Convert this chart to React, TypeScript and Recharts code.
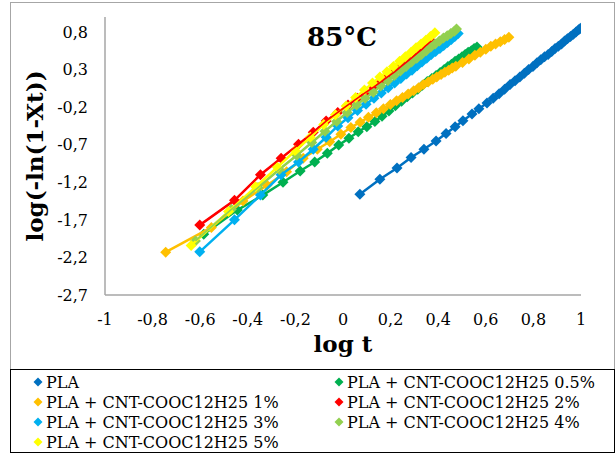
import { ScatterChart, Scatter, XAxis, YAxis } from "recharts";

// log t ticks and log(-ln(1-Xt)) ticks
const xTicks = [-1, -0.8, -0.6, -0.4, -0.2, 0, 0.2, 0.4, 0.6, 0.8, 1];
const yTicks = [-2.7, -2.2, -1.7, -1.2, -0.7, -0.2, 0.3, 0.8];

// PLA
const plaX = [0.071, 0.155, 0.227, 0.286, 0.34, 0.391, 0.433, 0.471, 0.504, 0.542, 0.571, 0.605, 0.631, 0.656, 0.679, 0.702, 0.723, 0.743, 0.762, 0.78, 0.798, 0.815, 0.831, 0.847, 0.862, 0.877, 0.891, 0.905, 0.918, 0.931, 0.943, 0.956, 0.968, 0.979, 0.99, 0.998];
const plaY = [-1.36, -1.16, -1.01, -0.87, -0.76, -0.65, -0.55, -0.46, -0.38, -0.29, -0.22, -0.145, -0.08, -0.02, 0.04, 0.1, 0.15, 0.2, 0.25, 0.3, 0.34, 0.39, 0.43, 0.47, 0.5, 0.54, 0.58, 0.61, 0.64, 0.68, 0.71, 0.74, 0.77, 0.8, 0.83, 0.85];

// PLA + CNT-COOC12H25 0.5%
const cnt05X = [-0.585, -0.444, -0.337, -0.252, -0.18, -0.119, -0.066, -0.018, 0.025, 0.064, 0.1, 0.134, 0.164, 0.193, 0.22, 0.246, 0.27, 0.292, 0.314, 0.334, 0.354, 0.373, 0.391, 0.408, 0.425, 0.441, 0.456, 0.471, 0.486, 0.5, 0.513, 0.526, 0.539, 0.551, 0.563];
const cnt05Y = [-1.89, -1.57, -1.37, -1.2, -1.05, -0.93, -0.815, -0.705, -0.615, -0.527, -0.46, -0.39, -0.32, -0.25, -0.18, -0.12, -0.06, -0.01, 0.04, 0.09, 0.14, 0.18, 0.22, 0.26, 0.3, 0.34, 0.37, 0.41, 0.44, 0.47, 0.5, 0.53, 0.55, 0.58, 0.6];

// PLA + CNT-COOC12H25 1%
const cnt1X = [-0.745, -0.553, -0.42, -0.319, -0.237, -0.167, -0.108, -0.056, -0.009, 0.033, 0.072, 0.107, 0.14, 0.17, 0.199, 0.225, 0.25, 0.274, 0.297, 0.318, 0.338, 0.358, 0.377, 0.394, 0.412, 0.428, 0.444, 0.459, 0.474, 0.502, 0.529, 0.554, 0.577, 0.6, 0.621, 0.641, 0.661, 0.679, 0.697];
const cnt1Y = [-2.13, -1.8, -1.45, -1.24, -1.06, -0.88, -0.76, -0.66, -0.56, -0.47, -0.4, -0.335, -0.275, -0.22, -0.165, -0.115, -0.07, -0.025, 0.02, 0.06, 0.1, 0.135, 0.17, 0.2, 0.235, 0.265, 0.29, 0.32, 0.345, 0.395, 0.44, 0.49, 0.53, 0.57, 0.61, 0.64, 0.67, 0.7, 0.73];

// PLA + CNT-COOC12H25 2%
const cnt2X = [-0.602, -0.456, -0.347, -0.26, -0.187, -0.125, -0.071, -0.022, 0.021, 0.061, 0.097, 0.13, 0.161, 0.19, 0.217, 0.243, 0.267, 0.29, 0.312, 0.332, 0.352, 0.371];
const cnt2Y = [-1.77, -1.44, -1.1, -0.88, -0.695, -0.535, -0.385, -0.27, -0.17, -0.08, 0.0, 0.07, 0.14, 0.21, 0.27, 0.34, 0.4, 0.46, 0.52, 0.57, 0.63, 0.68];

// PLA + CNT-COOC12H25 3%
const cnt3X = [-0.602, -0.456, -0.347, -0.26, -0.187, -0.125, -0.071, -0.022, 0.021, 0.061, 0.097, 0.13, 0.161, 0.19, 0.217, 0.243, 0.267, 0.29, 0.312, 0.332, 0.352, 0.371, 0.389, 0.407, 0.423, 0.439, 0.455, 0.47, 0.484];
const cnt3Y = [-2.125, -1.7, -1.37, -1.1, -0.93, -0.76, -0.6, -0.45, -0.34, -0.245, -0.16, -0.08, -0.01, 0.06, 0.12, 0.18, 0.24, 0.29, 0.35, 0.4, 0.45, 0.5, 0.54, 0.58, 0.62, 0.66, 0.7, 0.74, 0.78];

// PLA + CNT-COOC12H25 4%
const cnt4X = [-0.62, -0.469, -0.357, -0.268, -0.194, -0.131, -0.076, -0.027, 0.017, 0.057, 0.093, 0.127, 0.158, 0.188, 0.215, 0.241, 0.265, 0.288, 0.31, 0.33, 0.35, 0.369, 0.387, 0.405, 0.422, 0.438, 0.453, 0.468, 0.477];
const cnt4Y = [-1.98, -1.56, -1.27, -1.03, -0.84, -0.67, -0.52, -0.39, -0.27, -0.17, -0.08, 0.0, 0.08, 0.15, 0.22, 0.28, 0.34, 0.4, 0.45, 0.5, 0.55, 0.6, 0.64, 0.68, 0.72, 0.75, 0.78, 0.81, 0.84];

// PLA + CNT-COOC12H25 5%
const cnt5X = [-0.638, -0.481, -0.367, -0.276, -0.201, -0.137, -0.081, -0.032, 0.013, 0.053, 0.09, 0.124, 0.155, 0.185, 0.212, 0.238, 0.262, 0.286, 0.307, 0.328, 0.348, 0.367, 0.386];
const cnt5Y = [-2.04, -1.59, -1.26, -1.0, -0.78, -0.6, -0.43, -0.3, -0.185, -0.07, 0.03, 0.12, 0.2, 0.27, 0.34, 0.41, 0.47, 0.53, 0.59, 0.64, 0.69, 0.74, 0.79];

const zip = (xs: number[], ys: number[]) => xs.map((x, i) => ({ x, y: ys[i] }));

const series = [
  { name: "PLA", color: "#0070C0", data: zip(plaX, plaY) },
  { name: "PLA + CNT-COOC12H25 0.5%", color: "#00B050", data: zip(cnt05X, cnt05Y) },
  { name: "PLA + CNT-COOC12H25 1%", color: "#FFC000", data: zip(cnt1X, cnt1Y) },
  { name: "PLA + CNT-COOC12H25 2%", color: "#FF0000", data: zip(cnt2X, cnt2Y) },
  { name: "PLA + CNT-COOC12H25 3%", color: "#00B0F0", data: zip(cnt3X, cnt3Y) },
  { name: "PLA + CNT-COOC12H25 4%", color: "#92D050", data: zip(cnt4X, cnt4Y) },
  { name: "PLA + CNT-COOC12H25 5%", color: "#FFFF00", data: zip(cnt5X, cnt5Y) },
];

// draw order, later on top
const drawOrder = [0, 1, 2, 4, 3, 5, 6];

const R = 5.5;
const Diamond = (props: any) => {
  const { cx, cy, color } = props;
  if (cx == null || cy == null) return <g />;
  return (
    <path
      d={`M${cx},${cy - R}L${cx + R},${cy}L${cx},${cy + R}L${cx - R},${cy}Z`}
      fill={color}
      stroke="none"
    />
  );
};

const fmt = (v: number) => String(v).replace(".", ",");

const FONT = "'DejaVu Serif', 'Liberation Serif', serif";
const axisStyle = { fontFamily: FONT, fontSize: 16, fill: "#000" };

export default function App() {
  return (
    <div style={{ position: "absolute", left: 0, top: 0, width: 616, height: 456, background: "#fff", fontFamily: FONT }}>
      <div style={{ position: "absolute", left: 10, top: 2, width: 605, height: 451, border: "1.5px solid #a6a6a6", boxSizing: "border-box" }} />
      <div style={{ position: "absolute", left: 0, top: 0 }}>
        <ScatterChart width={616} height={370} margin={{ top: 17, right: 35, bottom: 45, left: 45 }}>
          <XAxis
            type="number"
            dataKey="x"
            domain={[-1, 1]}
            ticks={xTicks}
            allowDataOverflow
            tickFormatter={fmt}
            tickLine={false}
            tickMargin={13}
            height={30}
            axisLine={{ stroke: "#a6a6a6", strokeWidth: 1.5 }}
            tick={axisStyle}
          />
          <YAxis
            type="number"
            dataKey="y"
            domain={[-2.7, 1]}
            ticks={yTicks}
            allowDataOverflow
            tickFormatter={fmt}
            tickLine={false}
            tickMargin={11}
            width={60}
            axisLine={{ stroke: "#a6a6a6", strokeWidth: 1.5 }}
            tick={axisStyle}
          />
          {drawOrder.map((i) => (
            <Scatter
              key={series[i].name}
              name={series[i].name}
              data={series[i].data}
              line={{ stroke: series[i].color, strokeWidth: 2.5 }}
              lineType="joint"
              shape={(p: any) => <Diamond {...p} color={series[i].color} />}
              isAnimationActive={false}
            />
          ))}
          {/* fitted lines showing through the yellow markers */}
          {[3, 5].map((i) => (
            <Scatter
              key={"line" + i}
              data={series[i].data}
              line={{ stroke: series[i].color, strokeWidth: 1.5 }}
              lineType="joint"
              shape={() => <g />}
              legendType="none"
              isAnimationActive={false}
            />
          ))}
        </ScatterChart>
      </div>

      <div style={{ position: "absolute", left: 242, top: 23, width: 200, textAlign: "center", fontSize: 26, lineHeight: "28px", fontWeight: "bold" }}>
        85°C
      </div>
      <div style={{ position: "absolute", left: -90, top: 142, width: 250, height: 28, lineHeight: "28px", textAlign: "center", fontSize: 23, fontWeight: "bold", transform: "rotate(-90deg)" }}>
        log(-ln(1-Xt))
      </div>
      <div style={{ position: "absolute", left: 243, top: 331, width: 200, textAlign: "center", fontSize: 23, lineHeight: "26px", fontWeight: "bold" }}>
        log t
      </div>

      <div style={{ position: "absolute", left: 10, top: 369, width: 605, height: 84, border: "1.5px solid #000", boxSizing: "border-box" }}>
        {series.map((s, i) => {
          const col = i % 2;
          const row = Math.floor(i / 2);
          return (
            <div
              key={s.name}
              style={{ position: "absolute", left: col === 0 ? 22 : 323, top: 2 + row * 20, height: 20, display: "flex", alignItems: "center", fontSize: 16, whiteSpace: "nowrap" }}
            >
              <svg width={10} height={10} style={{ display: "block" }}>
                <polygon points="5,0.5 9.5,5 5,9.5 0.5,5" fill={s.color} />
              </svg>
              <span style={{ marginLeft: 3 }}>{s.name}</span>
            </div>
          );
        })}
      </div>
    </div>
  );
}
